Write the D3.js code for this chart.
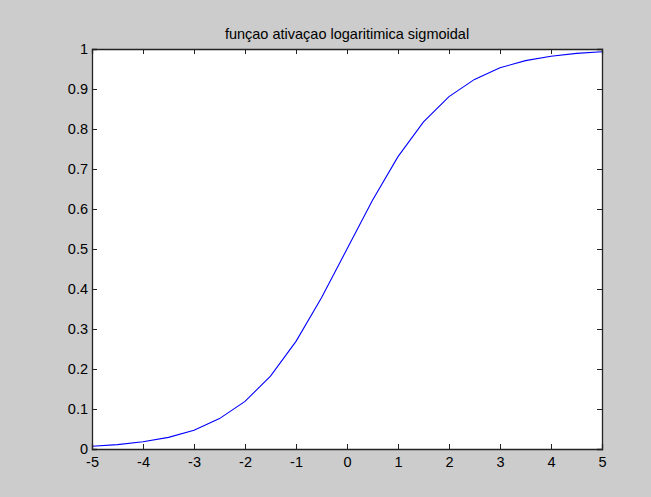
<!DOCTYPE html>
<html>
<head>
<meta charset="utf-8">
<script src="https://cdn.jsdelivr.net/npm/d3@7"></script>
<style>
  body { margin: 0; background: #cccccc; }
  svg { display: block; }
  text { font-family: "Liberation Sans", Arial, sans-serif; fill: #000; }
</style>
</head>
<body>
<div id="chart"></div>
<script>
var width = 651,
    height = 497;

// sampled points of the curve (x every 0.5)
var xs = [-5, -4.5, -4, -3.5, -3, -2.5, -2, -1.5, -1, -0.5, 0, 0.5, 1, 1.5, 2, 2.5, 3, 3.5, 4, 4.5, 5];
var ys = [0.007, 0.011, 0.018, 0.029, 0.047, 0.076, 0.119, 0.182, 0.269, 0.378, 0.5,
          0.622, 0.731, 0.818, 0.881, 0.924, 0.953, 0.971, 0.982, 0.989, 0.993];
var xTicks = [-5, -4, -3, -2, -1, 0, 1, 2, 3, 4, 5];
var yTicks = [0, 0.1, 0.2, 0.3, 0.4, 0.5, 0.6, 0.7, 0.8, 0.9, 1];
var title = "funçao ativaçao logaritimica sigmoidal";

var margin = {left: 92, top: 49, right: 49, bottom: 48};
var w = width - margin.left - margin.right,
    h = height - margin.top - margin.bottom;

var svg = d3.select("#chart").append("svg")
    .attr("width", width)
    .attr("height", height);

svg.append("rect")
    .attr("width", width)
    .attr("height", height)
    .attr("fill", "#cccccc");

var g = svg.append("g")
    .attr("transform", "translate(" + margin.left + "," + margin.top + ")");

var x = d3.scaleLinear().domain([-5, 5]).range([0, w]);
var y = d3.scaleLinear().domain([0, 1]).range([h, 0]);

g.append("rect")
    .attr("width", w)
    .attr("height", h)
    .attr("fill", "#fff");

// curve
var line = d3.line()
    .x(function (d, i) { return x(xs[i]); })
    .y(function (d) { return y(d); });

g.append("path")
    .datum(ys)
    .attr("d", line)
    .attr("fill", "none")
    .attr("stroke", "#0000ff")
    .attr("stroke-width", 1.1);

// axes, ticks pointing inward like matlab, plain hyphen for minus
var fmt = function (d) { return String(d); };

var xAxis = g.append("g")
    .attr("transform", "translate(0," + h + ")")
    .call(d3.axisBottom(x).tickValues(xTicks).tickSize(-5).tickPadding(8).tickFormat(fmt));
var xTop = g.append("g")
    .call(d3.axisTop(x).tickValues(xTicks).tickSize(-5).tickFormat(""));
var yAxis = g.append("g")
    .call(d3.axisLeft(y).tickValues(yTicks).tickSize(-5).tickPadding(4).tickFormat(fmt));
var yRight = g.append("g")
    .attr("transform", "translate(" + w + ",0)")
    .call(d3.axisRight(y).tickValues(yTicks).tickSize(-5).tickFormat(""));

svg.selectAll(".domain").attr("stroke", "#222").attr("stroke-width", 1.3);
svg.selectAll(".tick line").attr("stroke", "#222");
svg.selectAll(".tick text")
    .style("font-family", "'Liberation Sans', Arial, sans-serif")
    .style("font-size", "14.5px")
    .attr("fill", "#000");

svg.append("text")
    .attr("x", margin.left + w / 2)
    .attr("y", 39)
    .attr("text-anchor", "middle")
    .style("font-size", "14.5px")
    .text(title);
</script>
</body>
</html>
